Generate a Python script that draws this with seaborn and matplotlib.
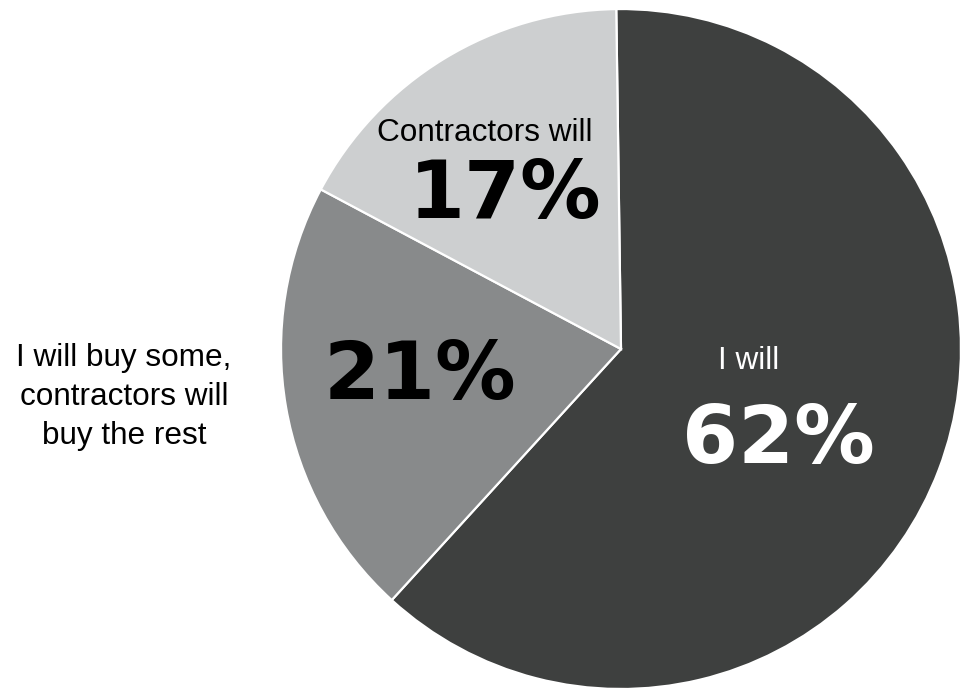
import matplotlib
matplotlib.use("Agg")
import matplotlib.pyplot as plt
import seaborn as sns

# Who will buy the materials
categories = ["I will", "I will buy some,\ncontractors will\nbuy the rest", "Contractors will"]
shares = [62, 21, 17]
slice_colors = ["#3e403f", "#888a8b", "#cdcfd0"]

sns.set_theme(style="white")
plt.rcParams["font.family"] = ["Liberation Sans", "DejaVu Sans"]

fig = plt.figure(figsize=(9.61, 6.91), dpi=100)
ax = fig.add_axes([0.2924, 0.0029, 0.7076, 0.984])

wedges, _ = ax.pie(
    shares,
    colors=sns.color_palette(slice_colors),
    startangle=90.8,
    counterclock=False,
    wedgeprops=dict(edgecolor="white", linewidth=1.6),
)
ax.set_xlim(-1, 1)
ax.set_ylim(-1, 1)
ax.set_aspect("equal")
ax.axis("off")

name_font = dict(family=["Liberation Sans", "DejaVu Sans"], fontsize=22.7)
pct_font = dict(family=["DejaVu Sans"], fontsize=58, fontweight="bold")

# Slice 0: "I will"
ax.text(0.376, -0.035, categories[0], color="white", ha="center", va="center", **name_font)
ax.text(0.462, -0.272, f"{shares[0]}%", color="white", ha="center", va="center", **pct_font)

# Slice 1: label sits outside the pie on the left
ax.text(-1.462, -0.141, categories[1], color="black", ha="center", va="center",
        linespacing=1.4, clip_on=False, **name_font)
ax.text(-0.591, -0.082, f"{shares[1]}%", color="black", ha="center", va="center", **pct_font)

# Slice 2: "Contractors will"
ax.text(-0.40, 0.635, categories[2], color="black", ha="center", va="center", **name_font)
ax.text(-0.341, 0.45, f"{shares[2]}%", color="black", ha="center", va="center", **pct_font)

fig.savefig("out.png", dpi=100, facecolor="white")
